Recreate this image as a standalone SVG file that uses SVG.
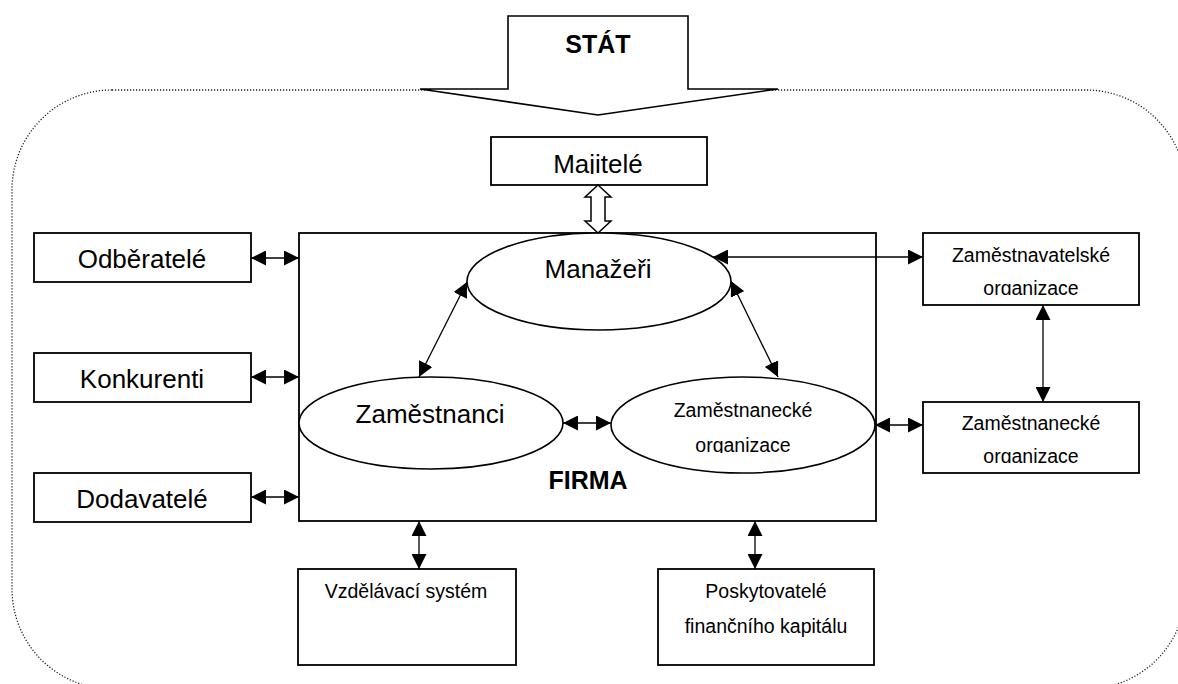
<svg xmlns="http://www.w3.org/2000/svg" width="1178" height="684" viewBox="0 0 1178 684">
<style>
text{font-family:"Liberation Sans",Arial,sans-serif;fill:#000;text-anchor:middle}
.big{font-size:26px}
.sm{font-size:19.5px}
.bold{font-weight:bold;font-size:25px}
.box{fill:#fff;stroke:#000;stroke-width:1.8}
.ell{fill:#fff;stroke:#000;stroke-width:1.6}
.con{fill:none;stroke:#000;stroke-width:1.3;marker-start:url(#ah);marker-end:url(#ah)}
</style>
<defs>
<marker id="ah" viewBox="0 0 15 15" refX="15" refY="7.5" markerWidth="15" markerHeight="15" markerUnits="userSpaceOnUse" orient="auto-start-reverse">
<path d="M0,0 L15,7.5 L0,15 z" fill="#000"/>
</marker>
<clipPath id="cMaj"><rect x="491" y="137" width="216" height="37"/></clipPath>
<clipPath id="cZv"><rect x="923" y="233" width="216" height="62"/></clipPath>
<clipPath id="cZn"><rect x="923" y="402" width="216" height="61"/></clipPath>
<clipPath id="cZe"><rect x="611" y="377" width="264" height="76"/></clipPath>
</defs>
<g id="frame">
<rect x="12" y="90" width="1174" height="599" rx="100" ry="100" fill="none" stroke="#222" stroke-width="1.3" stroke-dasharray="1.2 1.8"/>
</g>
<g id="stat">
<polygon points="508,16 688,16 688,89 778,89 598,115 420,89 508,89" fill="#fff" stroke="#000" stroke-width="1.6"/>
<text class="bold" x="598" y="53">STÁT</text>
</g>
<g id="majitele">
<rect class="box" x="491" y="137" width="216" height="48"/>
<text class="big" x="598" y="173" clip-path="url(#cMaj)">Majitelé</text>
</g>
<g id="firma">
<rect class="box" x="299" y="233" width="577" height="288"/>
<text class="bold" x="588" y="489">FIRMA</text>
</g>
<g id="manazeri">
<ellipse class="ell" cx="599" cy="281.5" rx="132" ry="48.5"/>
<text class="big" x="598" y="278">Manažeři</text>
</g>
<g id="zamestnanci">
<ellipse class="ell" cx="431" cy="423" rx="132" ry="46"/>
<text class="big" x="430" y="423">Zaměstnanci</text>
</g>
<g id="zam-org-ellipse">
<ellipse class="ell" cx="743" cy="425" rx="132" ry="48"/>
<text class="sm" x="743" y="417">Zaměstnanecké</text>
<text class="sm" x="743" y="452" clip-path="url(#cZe)">organizace</text>
</g>
<g id="odberatele">
<rect class="box" x="34" y="233" width="217" height="49"/>
<text class="big" x="142" y="268">Odběratelé</text>
</g>
<g id="konkurenti">
<rect class="box" x="34" y="353" width="217" height="49"/>
<text class="big" x="142" y="388">Konkurenti</text>
</g>
<g id="dodavatele">
<rect class="box" x="34" y="473" width="217" height="49"/>
<text class="big" x="142" y="508">Dodavatelé</text>
</g>
<g id="zamestnavatelske">
<rect class="box" x="923" y="233" width="216" height="72"/>
<text class="sm" x="1031" y="262">Zaměstnavatelské</text>
<text class="sm" x="1031" y="295" clip-path="url(#cZv)">organizace</text>
</g>
<g id="zamestnanecke">
<rect class="box" x="923" y="402" width="216" height="71"/>
<text class="sm" x="1031" y="430">Zaměstnanecké</text>
<text class="sm" x="1031" y="463" clip-path="url(#cZn)">organizace</text>
</g>
<g id="vzdelavaci">
<rect class="box" x="298" y="569" width="218" height="96"/>
<text class="sm" x="406" y="598">Vzdělávací systém</text>
</g>
<g id="poskytovatele">
<rect class="box" x="658" y="569" width="216" height="96"/>
<text class="sm" x="766" y="598">Poskytovatelé</text>
<text class="sm" x="766" y="633">finančního kapitálu</text>
</g>
<g id="connectors">
<polygon points="598,185 611,197 605,197 605,221 611,221 598,233 585,221 591,221 591,197 585,197" fill="#fff" stroke="#000" stroke-width="1.5"/>
<line class="con" x1="251" y1="258" x2="299" y2="258"/>
<line class="con" x1="251" y1="377" x2="299" y2="377"/>
<line class="con" x1="251" y1="497" x2="299" y2="497"/>
<line class="con" x1="713" y1="257" x2="923" y2="257"/>
<line class="con" x1="875" y1="425" x2="923" y2="425"/>
<line class="con" x1="1043" y1="305" x2="1043" y2="402"/>
<line class="con" x1="563" y1="423" x2="611" y2="423"/>
<line class="con" x1="467" y1="282" x2="419" y2="377"/>
<line class="con" x1="731" y1="281" x2="778" y2="377"/>
<line class="con" x1="419" y1="521" x2="419" y2="569"/>
<line class="con" x1="755" y1="521" x2="755" y2="569"/>
</g>
</svg>
